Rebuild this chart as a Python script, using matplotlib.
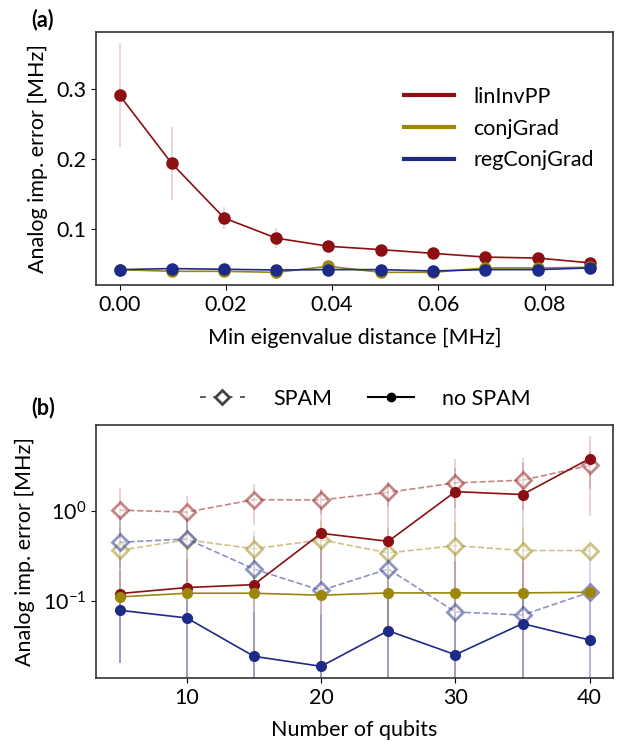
import matplotlib
matplotlib.use('Agg')
import matplotlib.pyplot as plt
from matplotlib.lines import Line2D
import numpy as np

plt.rcParams['font.family'] = ['Lato', 'DejaVu Sans']
plt.rcParams['mathtext.fontset'] = 'custom'
plt.rcParams['mathtext.rm'] = 'Lato'
plt.rcParams['font.size'] = 15.5
plt.rcParams['axes.linewidth'] = 1.2
plt.rcParams['axes.edgecolor'] = '#333333'

RED = '#8c0f12'
OLIVE = '#9c870c'
BLUE = '#1e2a87'

# panel (a): error vs min eigenvalue distance
eig_dist = [0.0, 0.0098, 0.0197, 0.0295, 0.0393, 0.0492, 0.059, 0.0688, 0.0787, 0.0885]
lin_inv = [0.291, 0.194, 0.116, 0.0874, 0.0758, 0.071, 0.0657, 0.0604, 0.059, 0.0522]
lin_inv_err = [0.074, 0.052, 0.016, 0.014, 0.006, 0.005, 0.004, 0.003, 0.003, 0.002]
conj_grad = [0.0425, 0.0401, 0.0401, 0.0386, 0.0473, 0.0386, 0.0386, 0.0449, 0.0449, 0.0459]
conj_grad_err = [0.002] * 10
reg_conj = [0.0425, 0.044, 0.043, 0.042, 0.0425, 0.0425, 0.0406, 0.0425, 0.0425, 0.0449]
reg_conj_err = [0.002] * 10

# panel (b): error vs number of qubits
qubits = [5, 10, 15, 20, 25, 30, 35, 40]
lin_spam = [1.03, 0.98, 1.35, 1.34, 1.63, 2.08, 2.23, 3.27]
lin_spam_err = [0.8, 0.5, 0.65, 0.4, 0.5, 1.0, 1.2, 1.5]
conj_spam = [0.366, 0.48, 0.38, 0.48, 0.342, 0.413, 0.364, 0.364]
conj_spam_err = [0.3, 0.35, 0.22, 0.3, 0.3, 0.35, 0.3, 0.05]
reg_spam = [0.45, 0.49, 0.226, 0.13, 0.226, 0.0747, 0.069, 0.124]
reg_spam_err = [0.43, 0.5, 0.3, 0.3, 0.3, 0.2, 0.2, 0.3]
lin_nospam = [0.12, 0.14, 0.151, 0.567, 0.461, 1.66, 1.54, 3.89]
lin_nospam_err = [0.1, 0.15, 0.15, 1.2, 1.6, 2.2, 2.4, 3.0]
conj_nospam = [0.11, 0.121, 0.121, 0.115, 0.122, 0.122, 0.122, 0.124]
conj_nospam_err = [0.01] * 8
reg_nospam = [0.078, 0.064, 0.0238, 0.0184, 0.046, 0.0248, 0.0553, 0.0362]
reg_nospam_err = [0.058, 0.07, 0.05, 0.05, 0.06, 0.05, 0.06, 0.06]

fig = plt.figure(figsize=(6.2, 7.41), dpi=100)
ax1 = fig.add_axes([0.155, 0.615, 0.834, 0.342])
ax2 = fig.add_axes([0.155, 0.085, 0.834, 0.342])

# --- (a)
for y, e, c, lab in [(lin_inv, lin_inv_err, RED, 'linInvPP'),
                     (conj_grad, conj_grad_err, OLIVE, 'conjGrad'),
                     (reg_conj, reg_conj_err, BLUE, 'regConjGrad')]:
    ax1.errorbar(eig_dist, y, yerr=e, fmt='none', ecolor=c, alpha=0.18, elinewidth=1.3)
    ax1.plot(eig_dist, y, '-o', color=c, lw=1.2, ms=8, label=lab)

handles = [Line2D([], [], color=c, lw=3) for c in (RED, OLIVE, BLUE)]
ax1.legend(handles, ['linInvPP', 'conjGrad', 'regConjGrad'], loc='upper right',
           bbox_to_anchor=(1.0, 0.86), frameon=False, fontsize=15.5,
           handlelength=2.3, labelspacing=0.55, handletextpad=0.9)
ax1.set_yticks([0.1, 0.2, 0.3])
ax1.set_xticks([0.0, 0.02, 0.04, 0.06, 0.08])
ax1.set_xlabel('Min eigenvalue distance [MHz]', labelpad=9)
ax1.set_ylabel('Analog imp. error [MHz]', labelpad=6)
fig.text(0.05, 0.965, '(a)', fontweight='bold', fontsize=15.5)

# --- (b)
spam = [(lin_spam, lin_spam_err, RED), (conj_spam, conj_spam_err, OLIVE),
        (reg_spam, reg_spam_err, BLUE)]
nospam = [(lin_nospam, lin_nospam_err, RED), (conj_nospam, conj_nospam_err, OLIVE),
          (reg_nospam, reg_nospam_err, BLUE)]
for y, e, c in spam:
    ax2.errorbar(qubits, y, yerr=e, fmt='none', ecolor=c, alpha=0.2, elinewidth=1.3)
for y, e, c in nospam:
    ax2.errorbar(qubits, y, yerr=e, fmt='none', ecolor=c, alpha=0.2, elinewidth=1.3)
for y, e, c in spam:
    ax2.plot(qubits, y, '--D', color=c, alpha=0.5, lw=1.2, ms=8,
             mfc='white', mec=c, mew=2)
for y, e, c in nospam:
    ax2.plot(qubits, y, '-o', color=c, lw=1.2, ms=7)

ax2.set_yscale('log')
ax2.minorticks_off()
ax2.set_xticks([10, 20, 30, 40])
ax2.set_xlabel('Number of qubits', labelpad=9)
ax2.set_ylabel('Analog imp. error [MHz]', labelpad=6)
ax2.set_ylim(0.0136, 9.35)
h_spam = Line2D([], [], color='#444444', ls='--', lw=1.2, marker='D', ms=7,
                mfc='white', mew=2, dashes=(3.5, 4.5))
h_nospam = Line2D([], [], color='black', ls='-', marker='o', ms=6)
ax2.legend([h_spam, h_nospam], ['SPAM', 'no SPAM'], loc='lower center',
           bbox_to_anchor=(0.52, 0.985), ncol=2, frameon=False, fontsize=15.5,
           columnspacing=1.7, handlelength=2.1, handletextpad=1.3)
fig.text(0.05, 0.441, '(b)', fontweight='bold', fontsize=15.5)

fig.savefig('out.png', dpi=100)
